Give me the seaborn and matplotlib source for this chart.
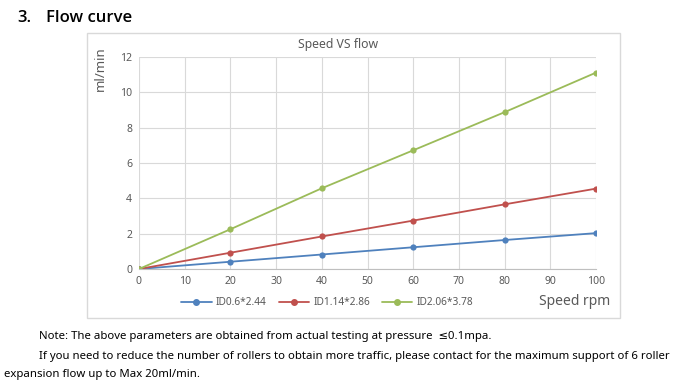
import matplotlib
matplotlib.use("Agg")
import matplotlib.pyplot as plt
import seaborn as sns
import pandas as pd
from matplotlib.patches import Rectangle

# data
speed = [0, 20, 40, 60, 80, 100]
flow_id06 = [0, 0.41, 0.82, 1.23, 1.64, 2.03]
flow_id114 = [0, 0.92, 1.84, 2.74, 3.66, 4.55]
flow_id206 = [0, 2.25, 4.57, 6.72, 8.88, 11.12]
series_names = ["ID0.6*2.44", "ID1.14*2.86", "ID2.06*3.78"]
series_colors = ["#4F81BD", "#C0504D", "#9BBB59"]

sns.set_style("white")
plt.rcParams['font.family'] = ['Noto Sans', 'DejaVu Sans']

df = pd.DataFrame({
    "Speed": speed * 3,
    "Flow": flow_id06 + flow_id114 + flow_id206,
    "Series": [n for n in series_names for _ in speed],
})

fig = plt.figure(figsize=(6.76, 3.83), dpi=100)

# chart frame
fig.patches.append(Rectangle((0.129, 0.170), 0.788, 0.744, transform=fig.transFigure,
                             fill=False, edgecolor="#D9D9D9", linewidth=1.0))

ax = fig.add_axes([0.2056, 0.2977, 0.6761, 0.5533])
sns.lineplot(data=df, x="Speed", y="Flow", hue="Series", hue_order=series_names,
             palette=series_colors, marker="o", markersize=4.5, markeredgewidth=0,
             linewidth=1.3, ax=ax, legend=False)

ax.set_xlim(0, 100)
ax.set_ylim(0, 12)
ax.set_xticks(range(0, 101, 10))
ax.set_yticks(range(0, 13, 2))
ax.grid(True, color="#D9D9D9", linewidth=0.8)
ax.set_axisbelow(True)
for side in ["top", "right", "left"]:
    ax.spines[side].set_visible(False)
ax.spines["bottom"].set_color("#BFBFBF")
ax.tick_params(axis="both", length=0, labelsize=7.5, labelcolor="#595959", pad=5)
ax.set_xlabel("")
ax.set_ylabel("")

handles = [plt.Line2D([], [], color=c, marker="o", markersize=4, linewidth=1.3)
           for c in series_colors]
fig.legend(handles, series_names, loc="center", bbox_to_anchor=(0.484, 0.209),
           ncol=3, frameon=False, fontsize=7.3, labelcolor="#595959",
           handlelength=3.0, columnspacing=1.2, handletextpad=0.4)

fig.text(0.5, 0.885, "Speed VS flow", ha="center", va="center", fontsize=8.8, color="#595959")
fig.text(0.148, 0.88, "ml/min", rotation=90, ha="center", va="top", fontsize=9.5, color="#595959")
fig.text(0.902, 0.212, "Speed rpm", ha="right", va="center", fontsize=10, color="#595959")

title_font = ['Open Sans', 'DejaVu Sans']
fig.text(0.025, 0.953, "3.", ha="left", va="center", fontsize=12,
         fontweight="semibold", family=title_font, color="black")
fig.text(0.068, 0.953, "Flow curve", ha="left", va="center", fontsize=12,
         fontweight="semibold", family=title_font, color="black")

note_lines = [
    "Note: The above parameters are obtained from actual testing at pressure  \u22640.1mpa.",
    "If you need to reduce the number of rollers to obtain more traffic, please contact for the maximum support of 6 roller",
    "expansion flow up to Max 20ml/min.",
]
fig.text(0.058, 0.122, note_lines[0], ha="left", va="center", fontsize=8.2, color="black")
fig.text(0.058, 0.070, note_lines[1], ha="left", va="center", fontsize=8.2, color="black")
fig.text(0.006, 0.023, note_lines[2], ha="left", va="center", fontsize=8.2, color="black")

fig.savefig("out.png", dpi=100)
